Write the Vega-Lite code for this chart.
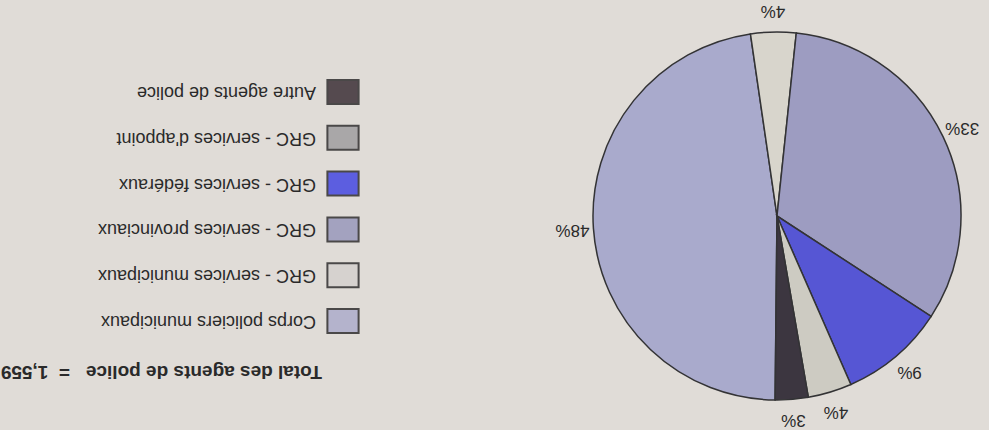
{
  "$schema": "https://vega.github.io/schema/vega-lite/v6.json",
  "background": "#e0dcd7",
  "padding": 0,
  "spacing": 0,
  "bounds": "flush",
  "config": {"view": {"stroke": null}, "font": "Liberation Sans"},
  "datasets": {
    "police": [
      {"categorie": "Corps policiers municipaux", "agents": 741, "pct": "48%", "ordre": 1},
      {"categorie": "GRC - services municipaux", "agents": 62, "pct": "4%", "ordre": 2},
      {"categorie": "GRC - services provinciaux", "agents": 507, "pct": "33%", "ordre": 3},
      {"categorie": "GRC - services fédéraux", "agents": 144, "pct": "9%", "ordre": 4},
      {"categorie": "GRC - services d'appoint", "agents": 60, "pct": "4%", "ordre": 5},
      {"categorie": "Autre agents de police", "agents": 45, "pct": "3%", "ordre": 6}
    ]
  },
  "hconcat": [
    {
      "width": 564,
      "height": 430,
      "data": {"name": "police"},
      "encoding": {
        "y": {
          "field": "categorie",
          "type": "nominal",
          "scale": {
            "type": "point",
            "padding": 0,
            "domain": ["Autre agents de police", "GRC - services d'appoint", "GRC - services fédéraux", "GRC - services provinciaux", "GRC - services municipaux", "Corps policiers municipaux"],
            "range": [92, 321]
          },
          "axis": null
        }
      },
      "layer": [
        {
          "mark": {"type": "point", "shape": "M-1.3,-1H1.3V1H-1.3Z", "filled": true, "size": 576, "stroke": "#4a4848", "strokeWidth": 2, "opacity": 1, "x": 342},
          "encoding": {
            "fill": {
              "field": "categorie",
              "type": "nominal",
              "scale": {
                "domain": ["Corps policiers municipaux", "GRC - services municipaux", "GRC - services provinciaux", "GRC - services fédéraux", "GRC - services d'appoint", "Autre agents de police"],
                "range": ["#b4b3cc", "#d6d2cf", "#a3a2bf", "#5c5ee0", "#a9a7a8", "#554a4f"]
              },
              "legend": null
            }
          }
        },
        {
          "mark": {"type": "text", "angle": 180, "align": "left", "baseline": "middle", "fontSize": 18, "color": "#2a2a2a", "x": 315},
          "encoding": {"text": {"field": "categorie"}}
        },
        {
          "data": {"values": [{"total": "Total des agents de police\u00a0\u00a0\u00a0=\u00a0\u00a01,559"}]},
          "mark": {"type": "text", "angle": 180, "align": "left", "baseline": "middle", "fontSize": 19, "fontWeight": "bold", "color": "#2a2a2a", "x": 321, "y": 372},
          "encoding": {"text": {"field": "total"}, "y": {"value": 372}}
        }
      ]
    },
    {
      "width": 424,
      "height": 432,
      "data": {"name": "police"},
      "encoding": {
        "theta": {"field": "agents", "type": "quantitative", "stack": true, "scale": {"range": [3.152, 9.435]}},
        "order": {"field": "ordre", "type": "quantitative"}
      },
      "layer": [
        {
          "mark": {"type": "arc", "outerRadius": 184, "stroke": "#333335", "strokeWidth": 1.5},
          "encoding": {
            "fill": {
              "field": "categorie",
              "type": "nominal",
              "scale": {
                "domain": ["Corps policiers municipaux", "GRC - services municipaux", "GRC - services provinciaux", "GRC - services fédéraux", "GRC - services d'appoint", "Autre agents de police"],
                "range": ["#a9aacc", "#d8d5cc", "#9d9cc1", "#5656d4", "#cdcbc2", "#3c3640"]
              },
              "legend": null
            }
          }
        },
        {
          "mark": {"type": "text", "radius": 205, "angle": 180, "fontSize": 17, "color": "#2a2a2a"},
          "encoding": {"text": {"field": "pct"}}
        }
      ]
    }
  ],
  "resolve": {"scale": {"fill": "independent"}}
}
